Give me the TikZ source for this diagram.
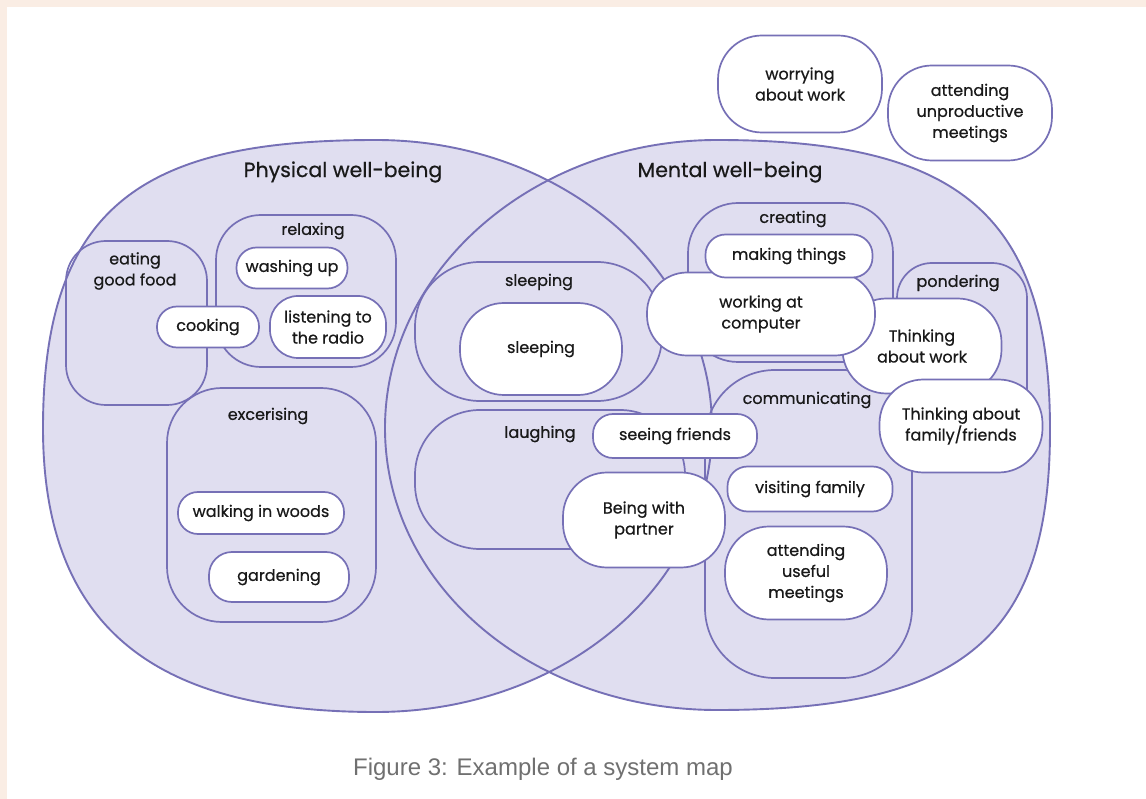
\documentclass[tikz,border=0pt]{standalone}
\usepackage{fontspec}
\setmainfont{Poppins}[FakeBold=0.6]
\newfontfamily\capfont{Liberation Sans}
\definecolor{lav}{RGB}{224,222,240}
\definecolor{purp}{RGB}{118,112,182}
\definecolor{peach}{RGB}{250,237,228}
\definecolor{capgray}{RGB}{112,112,112}
\definecolor{ink}{RGB}{25,25,25}

\begin{document}
\begin{tikzpicture}[x=1pt, y=-1pt,
        outline/.style={draw=purp, line width=1.9pt},
        grp/.style={draw=purp, line width=1.7pt},
        bub/.style={draw=purp, line width=1.7pt, fill=white, rounded corners=20pt, align=center, inner sep=0pt, text=ink, font=\fontsize{16}{21}\selectfont},
        lbl/.style={align=center, text=ink, font=\fontsize{16}{21}\selectfont},
        title/.style={text=ink, font=\fontsize{20.5}{24}\selectfont}]
        \useasboundingbox (0,0) rectangle (1146,799);
        \fill [white] (0,0) rectangle (1146,799);
        \fill [peach] (0,0) rectangle (1146,7);
        \fill [peach] (0,0) rectangle (7,799);

        \fill [lav] (376,140) .. controls (561,140) and (712,268) .. (712,428) .. controls (712,588) and (561,712) .. (376,712) .. controls (170,712) and (43,640) .. (43,428) .. controls (43,200) and (150,140) .. (376,140) -- cycle;
        \fill [lav] (717,140) .. controls (534,140) and (385,270) .. (385,428) .. controls (385,587) and (534,710) .. (717,710) .. controls (960,710) and (1050,640) .. (1050,430) .. controls (1050,215) and (960,140) .. (717,140) -- cycle;
        \draw [outline] (376,140) .. controls (561,140) and (712,268) .. (712,428) .. controls (712,588) and (561,712) .. (376,712) .. controls (170,712) and (43,640) .. (43,428) .. controls (43,200) and (150,140) .. (376,140) -- cycle;
        \draw [outline] (717,140) .. controls (534,140) and (385,270) .. (385,428) .. controls (385,587) and (534,710) .. (717,710) .. controls (960,710) and (1050,640) .. (1050,430) .. controls (1050,215) and (960,140) .. (717,140) -- cycle;

        \node [title] (phys) at (343,172) {Physical well-being};
        \node [title] (ment) at (730,172) {Mental well-being};

        \draw [grp, rounded corners=40pt] (66,241) rectangle (207,405);
        \draw [grp, rounded corners=45pt] (216,215) rectangle (396,367);
        \draw [grp, rounded corners=55pt] (167,388) rectangle (376,622);
        \draw [grp, rounded corners=65pt] (415,262) rectangle (662,401);
        \draw [grp, rounded corners=65pt] (415,410) rectangle (685,549);
        \draw [grp, rounded corners=50pt] (688,203) rectangle (893,362);
        \draw [grp, rounded corners=35pt] (897,263) rectangle (1027,445);
        \draw [grp, rounded corners=70pt] (705,370) rectangle (912,678);

        \node [lbl] (eating) at (135,271) {eating\\good food};
        \node [lbl] (relaxing) at (313,231) {relaxing};
        \node [lbl] (excerising) at (268,416) {excerising};
        \node [lbl] (sleepgrp) at (539,282) {sleeping};
        \node [lbl] (laughing) at (540,434) {laughing};
        \node [lbl] (creating) at (793,219) {creating};
        \node [lbl] (pondering) at (958,283) {pondering};
        \node [lbl] (communicating) at (807,400) {communicating};

        \node [bub, minimum width=164pt, minimum height=97pt, rounded corners=44pt] (worry) at (800,84) {worrying\\about work};
        \node [bub, minimum width=164pt, minimum height=95pt, rounded corners=44pt] (unprod) at (970,113) {attending\\unproductive\\meetings};

        \node [bub, minimum width=111pt, minimum height=41pt] (washing) at (292,268) {washing up};
        \node [bub, minimum width=102pt, minimum height=41pt] (cooking) at (208,327) {cooking};
        \node [bub, minimum width=116pt, minimum height=62pt, rounded corners=28pt] (radio) at (328,327) {listening to\\the radio};
        \node [bub, minimum width=166pt, minimum height=42pt] (walking) at (261,513) {walking in woods};
        \node [bub, minimum width=140pt, minimum height=50pt, rounded corners=23pt] (gardening) at (279,577) {gardening};

        \node [bub, minimum width=162pt, minimum height=92pt, rounded corners=44pt] (sleeping) at (541,349) {sleeping};
        \node [bub, minimum width=164pt, minimum height=44pt] (friends) at (675,436) {seeing friends};
        \node [bub, minimum width=162pt, minimum height=95pt, rounded corners=44pt] (partner) at (644,520) {Being with\\partner};

        \node [bub, minimum width=159pt, minimum height=95pt, rounded corners=44pt] (thinkwork) at (922,346) {Thinking\\about work};
        \node [bub, minimum width=163pt, minimum height=93pt, rounded corners=44pt] (thinkfam) at (961,426) {Thinking about\\family/friends};
        \node [bub, minimum width=228pt, minimum height=83pt, rounded corners=40pt] (computer) at (761,314) {working at\\computer};
        \node [bub, minimum width=167pt, minimum height=43pt] (making) at (789,256) {making things};
        \node [bub, minimum width=165pt, minimum height=45pt] (visiting) at (810,489) {visiting family};
        \node [bub, minimum width=162pt, minimum height=93pt, rounded corners=44pt] (useful) at (806,573) {attending\\useful\\meetings};

        \node [font=\capfont\fontsize{24}{28}\selectfont, text=capgray] (caption) at (543,769) {Figure 3: Example of a system map};
    \end{tikzpicture}
\end{document}
